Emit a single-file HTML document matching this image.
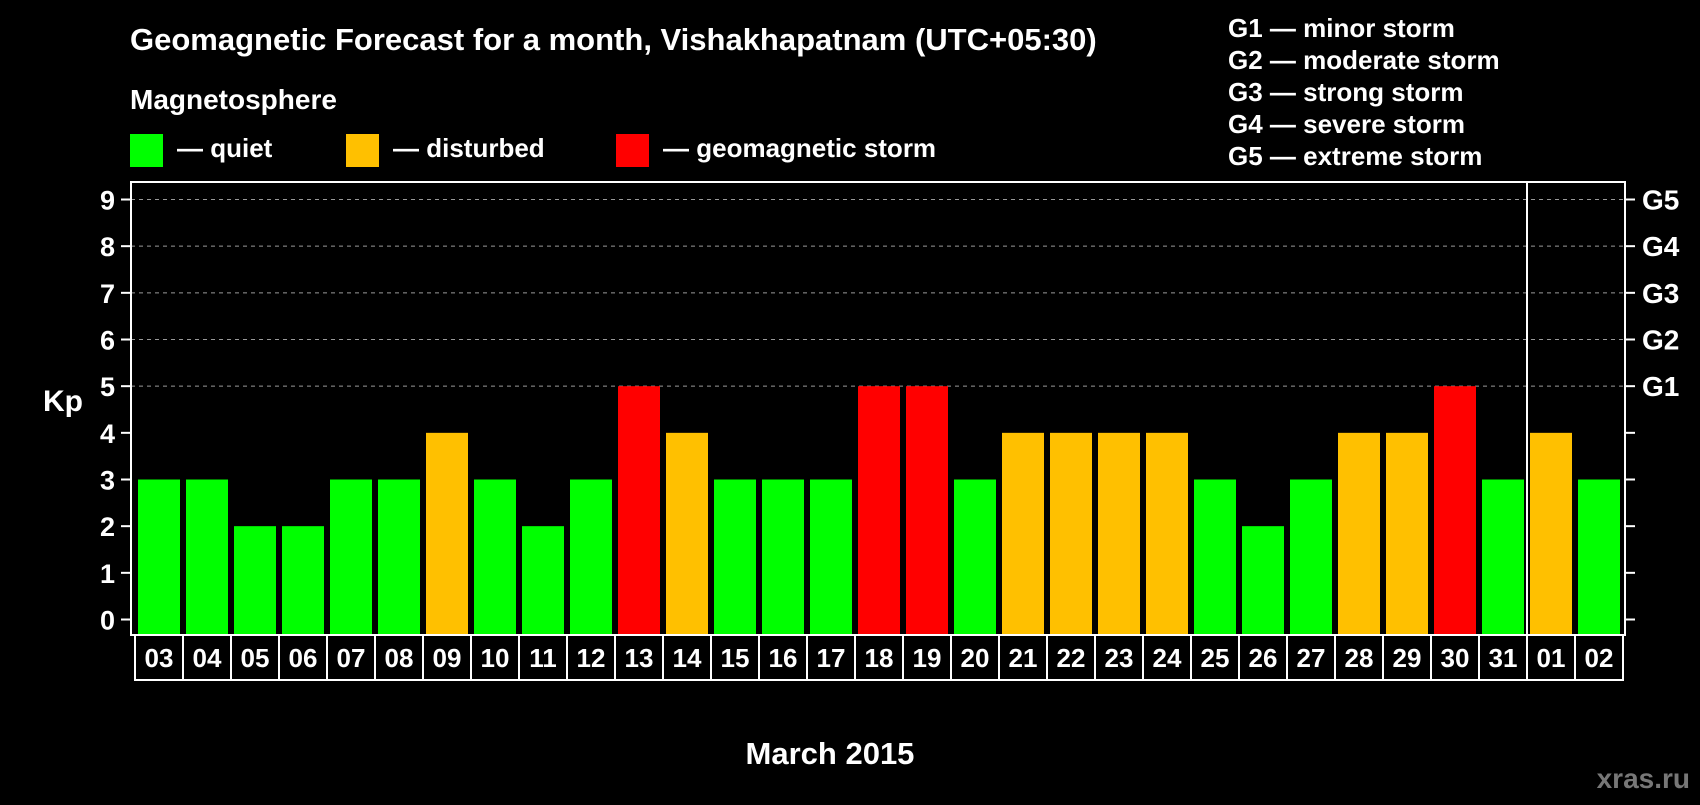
<!DOCTYPE html>
<html><head><meta charset="utf-8"><style>
body{margin:0;background:#000;width:1700px;height:800px;overflow:hidden}
svg{font-family:"Liberation Sans",Arial,sans-serif;font-weight:bold}
</style></head><body>
<svg width="1700" height="800">
<text x="130" y="50" fill="#fff" font-size="31">Geomagnetic Forecast for a month, Vishakhapatnam (UTC+05:30)</text>
<text x="130" y="109" fill="#fff" font-size="28">Magnetosphere</text>
<g><rect x="130" y="134" width="33" height="33" fill="#00ff00"/><text x="177" y="157" fill="#fff" font-size="26">— quiet</text></g>
<g><rect x="346" y="134" width="33" height="33" fill="#ffc000"/><text x="393" y="157" fill="#fff" font-size="26">— disturbed</text></g>
<g><rect x="616" y="134" width="33" height="33" fill="#ff0000"/><text x="663" y="157" fill="#fff" font-size="26">— geomagnetic storm</text></g>
<g fill="#fff" font-size="26">
<text x="1228" y="37">G1 — minor storm</text>
<text x="1228" y="69">G2 — moderate storm</text>
<text x="1228" y="101">G3 — strong storm</text>
<text x="1228" y="133">G4 — severe storm</text>
<text x="1228" y="165">G5 — extreme storm</text>
</g>
<g id="plot"></g>
<text x="63" y="411" fill="#fff" font-size="30" text-anchor="middle">Kp</text>
<text x="830" y="764" fill="#fff" font-size="31" text-anchor="middle">March 2015</text>
<text x="1690" y="788" fill="#777" font-size="28" text-anchor="end">xras.ru</text>
</svg>
<script>
const days=["03","04","05","06","07","08","09","10","11","12","13","14","15","16","17","18","19","20","21","22","23","24","25","26","27","28","29","30","31","01","02"];
const kp=[3,3,2,2,3,3,4,3,2,3,5,4,3,3,3,5,5,3,4,4,4,4,3,2,3,4,4,5,3,4,3];
const yTicks=[0,1,2,3,4,5,6,7,8,9];
const gLabels=["G1","G2","G3","G4","G5"];
const NS="http://www.w3.org/2000/svg";
const g=document.getElementById('plot');
const L=131,R=1625,T=182,B=635;
const slot=48;
const y=v=>619.5-v*(420/9);
const x=i=>135+i*slot;
function mk(t,a,p){const e=document.createElementNS(NS,t);for(const k in a)e.setAttribute(k,a[k]);(p||g).appendChild(e);return e;}
yTicks.forEach(v=>{
 if(v>=5){const l=mk('line',{x1:L,x2:R,y1:y(v),y2:y(v),stroke:'#999','stroke-dasharray':'4,4','stroke-width':1});
 }
 mk('line',{x1:L-10,x2:L,y1:y(v),y2:y(v),stroke:'#fff','stroke-width':2});
 mk('line',{x1:R,x2:R+10,y1:y(v),y2:y(v),stroke:'#fff','stroke-width':2});
 const t=mk('text',{x:L-16,y:y(v)+10,fill:'#fff','font-size':27,'text-anchor':'end'});t.textContent=v;
 
});
gLabels.forEach((s,i)=>{const t=mk('text',{x:R+17,y:y(5+i)+10,fill:'#fff','font-size':28});t.textContent=s;
 });
kp.forEach((v,i)=>{
 const c=v>=5?'#ff0000':v>=4?'#ffc000':'#00ff00';
 const r=mk('rect',{x:x(i)+3,y:y(v),width:42,height:B-y(v),fill:c});
 
 const cell=mk('rect',{x:x(i),y:B,width:slot,height:45,fill:'none',stroke:'#fff','stroke-width':2});
 
 const t=mk('text',{x:x(i)+slot/2,y:B+32,fill:'#fff','font-size':26,'text-anchor':'middle'});t.textContent=days[i];
 
});
const f=mk('rect',{x:L,y:T,width:R-L,height:B-T,fill:'none',stroke:'#fff','stroke-width':2});

const sx=x(29);
const s=mk('line',{x1:sx,x2:sx,y1:T,y2:B+45,stroke:'#fff','stroke-width':2});

</script>
</body></html>
